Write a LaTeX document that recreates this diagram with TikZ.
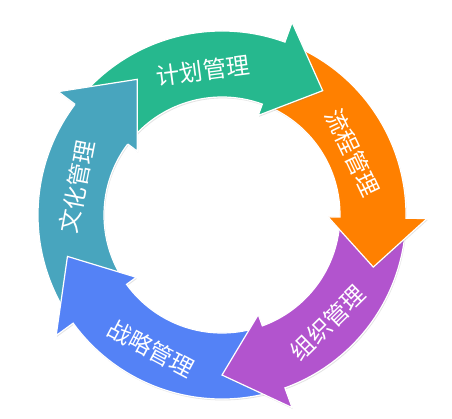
\documentclass[tikz,border=0pt]{standalone}
\usepackage{fontspec}
\newfontfamily\cjk{Noto Sans CJK SC}
\usetikzlibrary{shadows}
\definecolor{jihua}{RGB}{38,184,142}
\definecolor{liucheng}{RGB}{255,128,0}
\definecolor{zuzhi}{RGB}{178,84,206}
\definecolor{zhanlue}{RGB}{84,130,246}
\definecolor{wenhua}{RGB}{72,165,190}
\tikzset{
  band/.style={draw=white, line width=1.2pt, line join=miter,
    drop shadow={opacity=.22, shadow xshift=.8pt, shadow yshift=-1.4pt}},
  lbl/.style={text=white, inner sep=0pt, font=\cjk\fontsize{23.5}{23.5}\selectfont}
}
\begin{document}
\begin{tikzpicture}[x=1pt, y=1pt]
  \useasboundingbox (-222,-203) rectangle (230,215);
  % five arrows, tail under the previous head
  \foreach \c/\s/\b/\t in {wenhua/213/143/122, zhanlue/-73/-144/-165,
      zuzhi/-4/-70/-90, liucheng/67/-1/-19, jihua/140/70/51}
    \filldraw[band, fill=\c] (\s:184) arc[start angle=\s, end angle=\b, radius=184]
      -- (\b:205) -- (\t:160) -- (\b:106) -- (\b:118)
      arc[start angle=\b, end angle=\s, radius=118] -- cycle;
  % teal head again, over the green tail
  \fill[wenhua] (143:205) -- (122:160) -- (143:106) -- cycle;
  \draw[white, line width=1.2pt, line join=miter]
    (143:184) -- (143:205) -- (122:160) -- (143:106) -- (143:118);
  % labels
  \node[lbl, rotate=7.5] (jh) at (97.5:146) {计划管理};
  \node[lbl, rotate=-64.5] (lc) at (25.5:145) {流程管理};
  \node[lbl, rotate=44.5] (zz) at (-45.5:151) {组织管理};
  \node[lbl, rotate=-28] (zl) at (-118:151) {战略管理};
  \node[lbl, rotate=79] (wh) at (169:148) {文化管理};
\end{tikzpicture}
\end{document}
